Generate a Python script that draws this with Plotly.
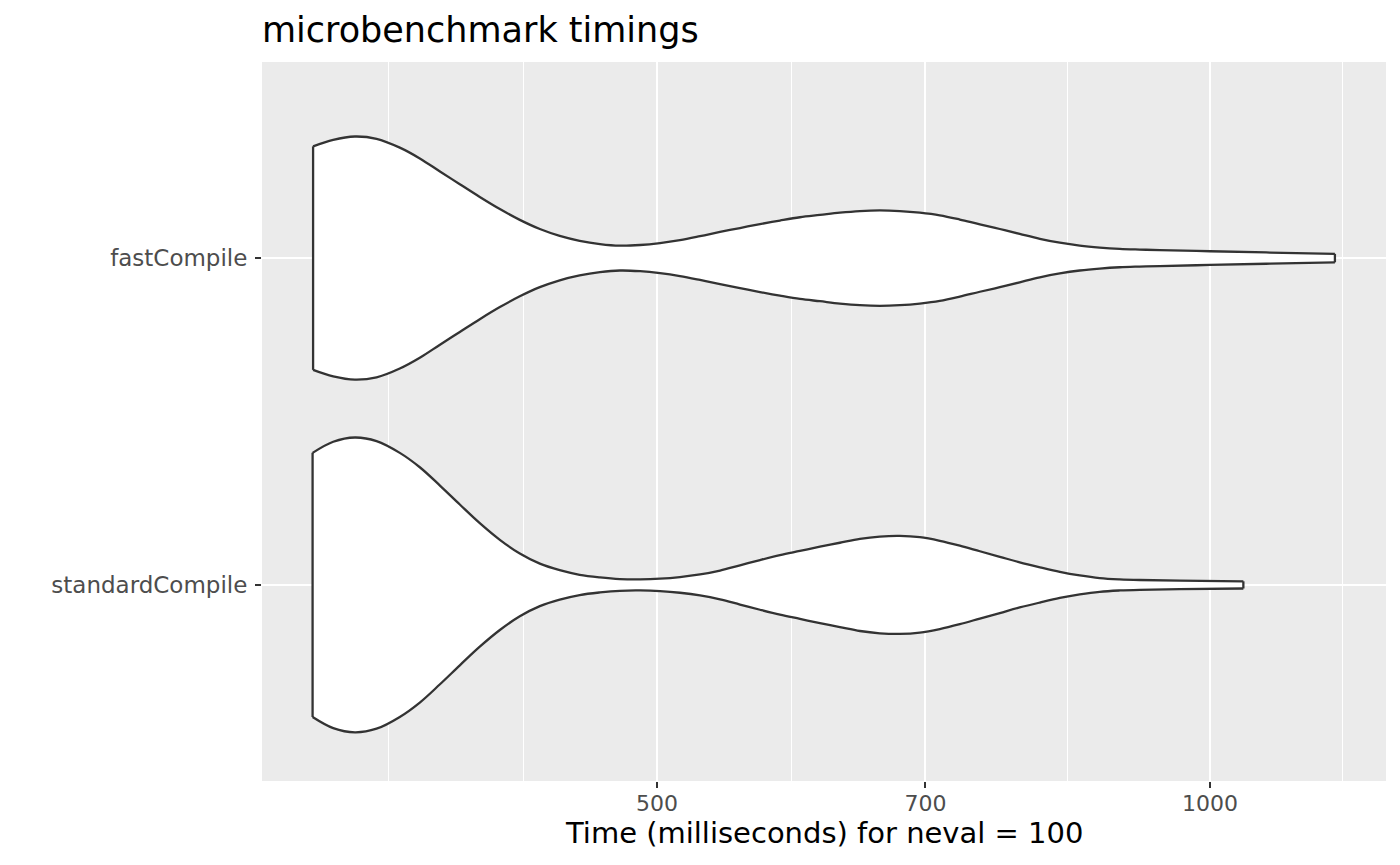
import plotly.graph_objects as go

# ---- data ----
categories = ["standardCompile", "fastCompile"]

# violin outlines: time (ms) and half-width (in category units)
fast_time = [324.9, 333.2, 342.4, 351.8, 362.2, 371.4, 380.9, 390.5, 400.4, 410.6, 421.0,
             431.7, 442.6, 453.8, 465.5, 477.3, 489.5, 501.9, 514.6, 527.7, 541.1, 554.8,
             568.9, 583.3, 598.1, 613.3, 628.8, 644.8, 661.1, 677.9, 695.1, 712.7, 730.8,
             749.4, 768.4, 787.8, 807.9, 828.4, 849.4, 870.9, 893.0, 915.7, 938.9, 1000.0,
             1078.1, 1169.5]
fast_halfwidth = [0.342, 0.362, 0.372, 0.365, 0.338, 0.305, 0.265, 0.226, 0.187, 0.150, 0.117,
                  0.089, 0.068, 0.053, 0.043, 0.038, 0.040, 0.046, 0.055, 0.067, 0.080, 0.092,
                  0.104, 0.115, 0.125, 0.132, 0.139, 0.144, 0.146, 0.144, 0.139, 0.131, 0.118,
                  0.103, 0.089, 0.074, 0.059, 0.047, 0.038, 0.032, 0.028, 0.026, 0.0245, 0.021,
                  0.017, 0.013]

std_time = [324.7, 333.2, 342.4, 351.8, 362.2, 371.4, 380.9, 390.5, 400.4, 410.6, 421.0,
            431.7, 442.6, 453.8, 465.5, 477.3, 489.5, 501.9, 514.6, 527.7, 541.1, 554.8,
            568.9, 583.3, 598.1, 613.3, 628.8, 644.8, 661.1, 677.9, 695.1, 712.7, 730.8,
            749.4, 768.4, 787.8, 807.9, 828.4, 849.4, 870.9, 893.0, 915.7, 962.7, 1042.7]
std_halfwidth = [0.404, 0.438, 0.451, 0.440, 0.404, 0.360, 0.304, 0.246, 0.189, 0.138, 0.096,
                 0.065, 0.045, 0.031, 0.023, 0.018, 0.017, 0.019, 0.024, 0.032, 0.044, 0.060,
                 0.076, 0.091, 0.104, 0.117, 0.129, 0.141, 0.148, 0.150, 0.146, 0.135, 0.120,
                 0.103, 0.086, 0.069, 0.054, 0.040, 0.029, 0.021, 0.017, 0.015, 0.013, 0.011]

x_tick_vals = [500, 700, 1000]
x_tick_text = ["500", "700", "1000"]
x_minor_vals = [357, 423, 592, 836, 1181]

violins = [
    (categories[0], 1, std_time, std_halfwidth),
    (categories[1], 2, fast_time, fast_halfwidth),
]

LINE = "#333333"
FONT = "DejaVu Sans"

fig = go.Figure()
for name, pos, t, h in violins:
    lower = [pos - v for v in h]
    upper = [pos + v for v in h]
    fig.add_trace(go.Scatter(x=t, y=lower, mode="lines",
                             line=dict(color=LINE, width=2.3, shape="spline", smoothing=1.0),
                             hoverinfo="skip", showlegend=False))
    fig.add_trace(go.Scatter(x=t, y=upper, mode="lines", fill="tonexty", fillcolor="white",
                             line=dict(color=LINE, width=2.3, shape="spline", smoothing=1.0),
                             hoverinfo="skip", showlegend=False))
    for i in (0, -1):
        fig.add_trace(go.Scatter(x=[t[i], t[i]], y=[lower[i], upper[i]], mode="lines",
                                 line=dict(color=LINE, width=2.3),
                                 hoverinfo="skip", showlegend=False))

# page body has an 8px margin; margins below compensate so the panel sits at x 262-1386, y 62-781
fig.update_layout(
    width=1400, height=865,
    margin=dict(l=254, r=22, t=54, b=92),
    paper_bgcolor="white", plot_bgcolor="#EBEBEB",
    showlegend=False,
    font=dict(family=FONT),
    title=dict(text="microbenchmark timings", font=dict(family=FONT, size=35, color="black"),
               xref="paper", x=0, xanchor="left", yref="container", y=1 - 22 / 865,
               yanchor="middle"),
    xaxis=dict(
        type="log", range=[2.48394, 3.09581],
        tickmode="array", tickvals=x_tick_vals, ticktext=x_tick_text,
        ticks="outside", ticklen=6, tickwidth=2, tickcolor=LINE,
        ticklabelstandoff=-3,
        tickfont=dict(family=FONT, size=22, color="#4D4D4D"),
        showgrid=True, gridcolor="white", gridwidth=2.2,
        minor=dict(tickmode="array", tickvals=x_minor_vals, showgrid=True,
                   gridcolor="white", gridwidth=1.1, ticks=""),
        zeroline=False, showline=False,
    ),
    yaxis=dict(
        range=[0.4, 2.6], tickmode="array", tickvals=[1, 2], ticktext=categories,
        ticks="outside", ticklen=6, tickwidth=2, tickcolor=LINE,
        ticklabelstandoff=3,
        tickfont=dict(family=FONT, size=23, color="#4D4D4D"),
        showgrid=True, gridcolor="white", gridwidth=2.2,
        zeroline=False, showline=False,
    ),
    annotations=[dict(text="Time (milliseconds) for neval = 100", xref="paper", yref="paper",
                      x=0.5, y=-52 / 719, xanchor="center", yanchor="middle", showarrow=False,
                      font=dict(family=FONT, size=29, color="black"))],
)

fig.write_html("out.html")
